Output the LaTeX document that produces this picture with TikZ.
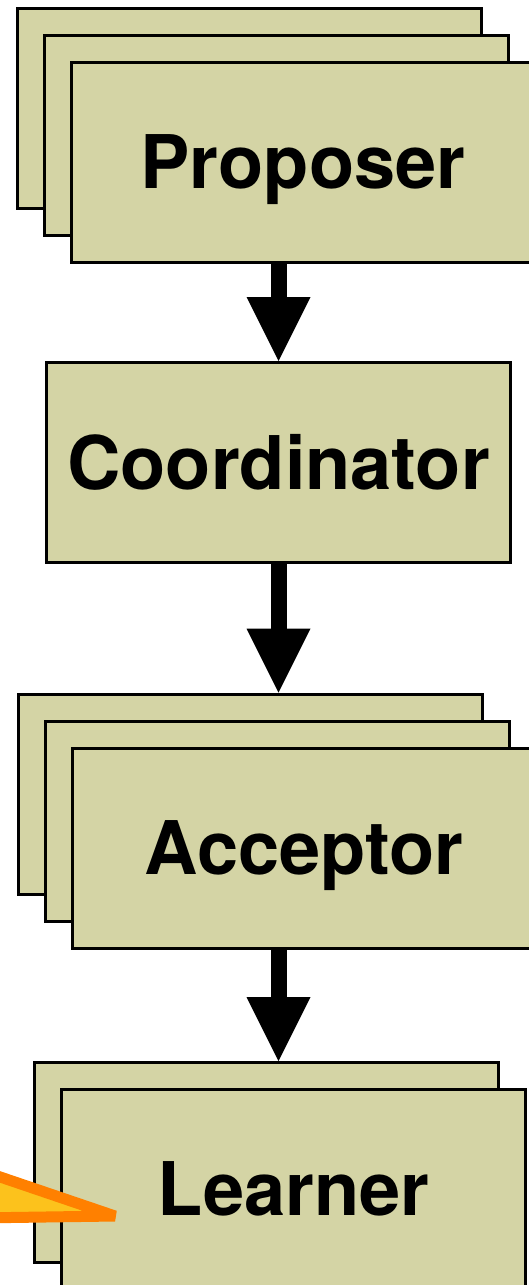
\documentclass[tikz,border=0pt]{standalone}
\usepackage{fontspec}
\setmainfont{TeX Gyre Heros}
\usepackage{tikz}
\usetikzlibrary{arrows.meta}

\definecolor{roleFill}{RGB}{212,212,165}
\definecolor{wedgeLine}{RGB}{255,128,0}
\definecolor{wedgeFill}{RGB}{252,194,28}

\begin{document}
\begin{tikzpicture}[x=1pt,y=-1pt,
    rolebox/.style={draw=black,line width=3pt,fill=roleFill,
      minimum width=464pt,minimum height=200pt,inner sep=0pt,
      text height=53pt,text depth=0pt,
      font=\fontsize{74}{80}\selectfont\bfseries},
    flow/.style={line width=16pt,
      -{Triangle[length=64pt,width=64pt,line width=0pt]}},
    wedge/.style={draw=wedgeLine,fill=wedgeFill,line width=11pt,line join=bevel}]
    \useasboundingbox (0,0) rectangle (529,1285);
    \clip (0,0) rectangle (529,1285);

    % Proposer stack
    \node[rolebox] (prop1) at (249,108.5) {};
    \node[rolebox] (prop2) at (276,135.5) {};
    \node[rolebox] (prop3) at (303,162) {Proposer};

    % Coordinator
    \node[rolebox] (coord) at (278.5,462.5) {Coordinator};

    % Acceptor stack
    \node[rolebox] (acc1) at (250.5,794) {};
    \node[rolebox] (acc2) at (277,821) {};
    \node[rolebox] (acc3) at (304,848) {Acceptor};

    % Learner stack
    \node[rolebox] (learn1) at (266,1162.5) {};
    \node[rolebox] (learn2) at (293.5,1189) {Learner};

    % Arrows between roles
    \draw[flow] (prop3.south -| coord.center) -- (coord.north);
    \draw[flow] (coord.south) -- (acc1.north -| coord.center);
    \draw[flow] (acc3.south -| coord.center) -- (learn1.north -| coord.center);

    % Pointer coming in from the left
    \draw[wedge] (-60,1156.5) -- (115,1216) -- (-60,1218.5) -- cycle;
  \end{tikzpicture}
\end{document}
